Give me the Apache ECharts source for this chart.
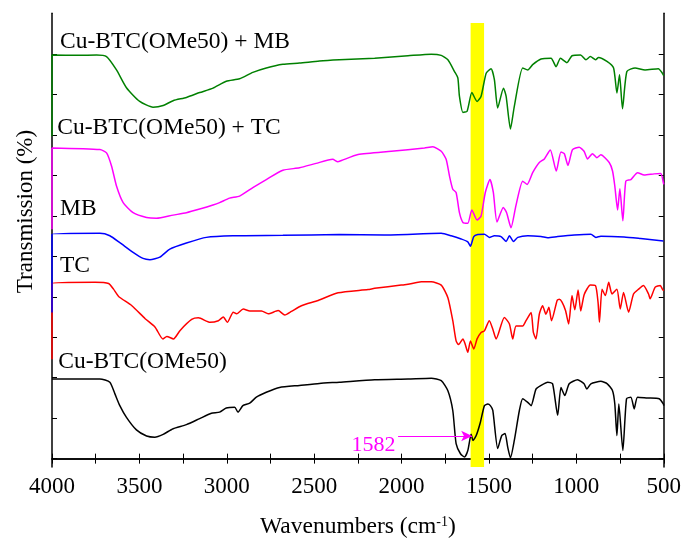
<!DOCTYPE html>
<html>
<head>
<meta charset="utf-8">
<script src="https://cdn.jsdelivr.net/npm/echarts@6/dist/echarts.min.js"></script>
<style>html,body{margin:0;padding:0;background:#fff}#c{width:684px;height:544px}</style>
</head>
<body>
<div id="c"></div>
<script>
// ---- data (wavenumber cm-1, transmission in arbitrary offset units) ----
const seriesNames = ['Cu-BTC(OMe50)', 'TC', 'MB', 'Cu-BTC(OMe50) + TC', 'Cu-BTC(OMe50) + MB'];

const wnBlack = [4000,3726,3669,3640,3612,3574,3517,3459,3412,3364,3307,3231,3155,3088,3041,3003,2955,2936,2908,2869,2831,2774,2698,2584,2470,2356,2154,1963,1830,1773,1735,1707,1688,1663,1640,1621,1602,1591,1573,1549,1526,1507,1492,1478,1450,1427,1408,1393,1377,1355,1326,1307,1278,1259,1231,1202,1164,1136,1107,1088,1066,1041,993,956,940,917,860,823,793,780,768,757,734,713,688,669,650,593,526,502,500];
const tBlack = [19.7,19.7,18.9,16.0,13.1,10.2,7.1,5.6,5.3,6.0,7.4,8.4,9.9,11.2,11.5,12.5,12.7,11.5,13.1,13.7,15.2,16.4,17.6,18.1,18.6,18.9,19.5,19.7,19.9,19.3,16.8,11.9,3.7,1.2,0.4,2.0,6.0,4.5,5.7,9.0,13.1,13.5,13.1,11.9,2.5,5.7,6.2,2.9,0.2,4.5,11.9,14.8,13.9,13.1,17.2,18.1,18.9,18.5,10.7,17.6,15.6,18.5,19.5,18.5,17.2,18.5,19.1,18.5,16.8,13.5,5.7,13.5,2.0,14.8,15.2,12.3,15.2,15.0,14.8,13.5,13.1];

const wnRed = [4000,4000,3753,3676,3648,3619,3543,3467,3410,3366,3343,3305,3267,3201,3162,3096,3048,3020,2997,2963,2944,2906,2868,2801,2763,2706,2668,2630,2573,2477,2363,2192,2154,2002,1963,1887,1830,1773,1735,1707,1688,1674,1649,1636,1621,1606,1587,1568,1545,1526,1498,1478,1459,1412,1383,1364,1345,1307,1288,1259,1246,1231,1212,1193,1174,1157,1142,1110,1098,1082,1062,1044,1025,1009,990,975,955,920,891,876,868,853,834,815,796,768,749,730,701,673,644,616,587,578,549,520,508,500];
const tRed = [24.6,43.3,43.6,43.3,41.9,40.1,37.8,34.6,32.5,29.6,30.2,29.6,31.7,34.4,34.8,33.7,34.1,35.0,33.7,36.2,35.8,37.0,36.5,36.5,35.8,36.6,35.5,36.4,37.8,39.1,41.0,41.8,42.1,42.9,43.1,43.7,43.7,42.9,39.8,34.1,29.1,28.2,29.6,28.3,26.3,29.1,27.1,29.6,31.2,31.6,34.1,32.0,29.6,34.9,33.3,29.6,32.8,32.8,34.1,36.1,31.2,29.6,35.7,37.8,35.7,37.4,34.1,39.1,39.4,38.7,36.6,33.3,40.3,36.8,41.7,36.5,40.6,42.9,42.8,38.7,33.7,41.9,40.3,43.6,40.7,41.9,37.0,41.1,36.2,40.7,41.9,42.8,40.7,39.5,42.4,42.8,41.9,41.5];

const wnBlue = [4000,4000,3726,3669,3612,3536,3479,3440,3383,3326,3231,3117,2965,2679,2356,2100,1773,1716,1659,1621,1606,1587,1564,1526,1498,1469,1431,1402,1383,1360,1335,1278,1202,1164,1107,1012,917,888,860,727,632,502,500];
const tBlue = [36.1,55.5,55.7,55.1,53.4,51.0,49.5,49.2,49.8,51.8,53.3,54.7,55.1,55.2,55.4,55.3,55.7,55.1,54.3,53.6,52.5,54.9,55.4,55.5,54.7,55.1,54.9,53.7,55.1,53.7,54.7,55.1,54.9,54.6,54.9,55.3,55.5,54.7,55.0,54.8,54.4,53.8,53.7];

const wnMagenta = [4000,4000,3726,3688,3659,3631,3593,3536,3459,3402,3307,3231,3155,3079,3041,2984,2927,2851,2774,2679,2584,2489,2394,2365,2344,2249,2059,1869,1821,1773,1745,1726,1707,1688,1669,1649,1621,1598,1568,1545,1521,1494,1475,1454,1418,1399,1374,1346,1307,1282,1250,1212,1183,1149,1115,1088,1069,1048,1022,984,956,936,908,883,860,812,793,780,764,751,734,717,688,650,612,555,517,502,500];
const tMagenta = [56.7,76.8,76.4,75.6,72.3,67.4,63.3,60.8,59.6,59.4,60.2,60.8,61.7,62.7,63.3,64.4,64.9,67.0,69.0,71.3,71.9,73.0,74.0,73.4,73.7,75.2,76.0,76.8,77.1,76.0,74.0,69.9,66.6,65.8,60.8,58.4,58.2,61.5,59.0,60.0,65.8,69.0,65.8,58.5,62.1,60.8,57.1,62.5,68.6,67.8,70.7,73.2,74.1,76.3,71.1,75.8,75.4,72.5,76.4,77.0,76.0,74.1,75.4,74.4,75.1,73.2,71.1,67.4,61.5,66.7,58.8,68.6,69.0,70.7,70.1,70.4,70.5,68.2,67.8];

const wnGreen = [4000,4000,3850,3745,3688,3631,3574,3498,3422,3364,3307,3231,3155,3079,3003,2927,2851,2774,2679,2584,2470,2356,2154,1963,1830,1773,1735,1697,1678,1669,1649,1625,1598,1568,1545,1516,1488,1469,1450,1417,1402,1377,1355,1307,1278,1250,1202,1145,1116,1091,1054,1025,976,945,920,890,873,825,787,768,753,736,711,664,607,531,508,500];
const tGreen = [79.7,99.8,99.7,99.8,99.4,96.1,91.7,88.3,86.9,87.3,88.5,89.3,90.5,91.6,93.3,93.9,95.5,96.6,97.5,97.8,98.3,98.6,99.0,99.6,100.0,99.7,98.6,95.7,94.1,89.6,85.6,85.9,90.5,88.3,89.6,95.3,96.4,93.7,86.7,91.6,89.6,81.5,87.1,96.6,96.1,97.4,98.8,99.0,96.9,99.0,97.9,99.6,99.8,98.6,99.4,98.6,99.2,98.2,96.6,90.4,94.9,86.5,95.7,96.6,96.1,96.4,95.3,94.7];

const xTicks = [4000,3500,3000,2500,2000,1500,1000,500];
const yTicks = [0,10,20,30,40,50,60,70,80,90,100];
const band = [1605, 1528];          // highlighted region (cm-1)
const bandTop = 107.7;
const peakLabel = '1582';
const arrowFrom = [2020, 5.6];
const arrowTo = [1596, 5.6];

const zip = (a, b) => a.map((v, i) => [v, b[i]]);
const colors = ['#000000', '#ff0000', '#0000ff', '#ff00ff', '#008000'];
const dataSets = [zip(wnBlack,tBlack), zip(wnRed,tRed), zip(wnBlue,tBlue), zip(wnMagenta,tMagenta), zip(wnGreen,tGreen)];

const FONT = '"Liberation Serif", "Times New Roman", serif';
const YMIN = -2.07, YMAX = 110.1;

const series = dataSets.map((d, i) => ({
  name: seriesNames[i], type: 'line', data: d, showSymbol: false, symbol: 'none',
  smooth: 0.2, clip: true, z: 3,
  lineStyle: { color: colors[i], width: 1.5 },
  animation: false
}));
series[0].markArea = {
  silent: true, z: 1,
  itemStyle: { color: '#ffff00' },
  data: [[{ xAxis: band[0], yAxis: bandTop }, { xAxis: band[1], yAxis: YMIN }]]
};
series[0].markLine = {
  silent: true, symbol: ['none', 'arrow'], symbolSize: [8, 11], animation: false,
  lineStyle: { color: '#ff00ff', width: 1, type: 'solid' },
  label: { show: false },
  data: [[{ coord: arrowFrom }, { coord: arrowTo }]]
};

const xCommon = {
  type: 'value', inverse: true, min: 500, max: 4000, interval: 250,
  axisLine: { show: true, lineStyle: { color: '#000', width: 1.5 } },
  axisTick: { show: true, inside: true, length: 5, lineStyle: { color: '#000', width: 1 } },
  splitLine: { show: false }
};
const yCommon = {
  type: 'value', min: YMIN, max: YMAX,
  axisLine: { show: true, onZero: false, lineStyle: { color: '#000', width: 1.5 } },
  axisTick: { show: true, inside: true, length: 5, customValues: yTicks, lineStyle: { color: '#000', width: 1 } },
  axisLabel: { show: false },
  splitLine: { show: false }
};

const LBL = '23.5px ' + FONT;
const chart = echarts.init(document.getElementById('c'));
chart.setOption({
  animation: false,
  backgroundColor: '#fff',
  grid: { left: 52, top: 13.3, right: 19.3, bottom: 75.3 },
  xAxis: [
    Object.assign({}, xCommon, {
      position: 'bottom',
      axisLabel: { show: true, margin: 8, color: '#000', fontFamily: FONT, fontSize: 23,
        formatter: v => xTicks.includes(v) ? String(v) : '' },
      name: '{a|Wavenumbers (cm}{s|-1}{a|)}', nameLocation: 'middle', nameGap: 48,
      nameTextStyle: { rich: {
        a: { fontFamily: FONT, fontSize: 23.5, color: '#000' },
        s: { fontFamily: FONT, fontSize: 14, color: '#000', verticalAlign: 'top', padding: [0, 0, 10, 0] }
      } }
    }),
    Object.assign({}, xCommon, { position: 'top', axisLabel: { show: false } })
  ],
  yAxis: [
    Object.assign({}, yCommon, { position: 'left' }),
    Object.assign({}, yCommon, { position: 'right' })
  ],
  series: series,
  graphic: [
    { type: 'text', x: 26, y: 211.5, rotation: Math.PI / 2, z: 10,
      style: { text: 'Transmission (%)', font: '23px ' + FONT, fill: '#000', align: 'center', verticalAlign: 'middle' } },
    { type: 'text', x: 60, y: 41.7, z: 10, style: { text: seriesNames[4], font: LBL, fill: '#000', verticalAlign: 'middle' } },
    { type: 'text', x: 57.3, y: 127.7, z: 10, style: { text: seriesNames[3], font: LBL, fill: '#000', verticalAlign: 'middle' } },
    { type: 'text', x: 60, y: 209, z: 10, style: { text: seriesNames[2], font: LBL, fill: '#000', verticalAlign: 'middle' } },
    { type: 'text', x: 60, y: 266, z: 10, style: { text: seriesNames[1], font: LBL, fill: '#000', verticalAlign: 'middle' } },
    { type: 'text', x: 58.3, y: 362, z: 10, style: { text: seriesNames[0], font: LBL, fill: '#000', verticalAlign: 'middle' } },
    { type: 'text', x: 373.5, y: 445, z: 10, style: { text: peakLabel, font: '22px ' + FONT, fill: '#ff00ff', align: 'center', verticalAlign: 'middle' } }
  ]
});
</script>
</body>
</html>
